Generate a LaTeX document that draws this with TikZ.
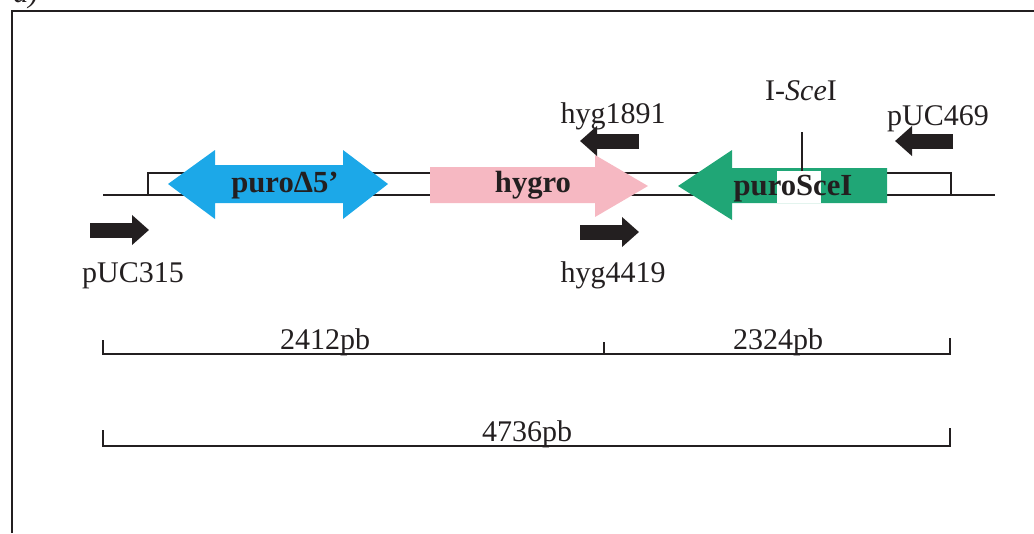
\documentclass[tikz,border=0pt]{standalone}
\usepackage{fontspec}
\setmainfont{Liberation Serif}
\usetikzlibrary{arrows.meta}
\definecolor{puroblue}{RGB}{28,168,232}
\definecolor{hygpink}{RGB}{246,184,194}
\definecolor{scegreen}{RGB}{32,166,118}
\definecolor{ink}{RGB}{35,31,32}
\begin{document}
\begin{tikzpicture}[x=0.75pt,y=-0.75pt,
  lbl/.style={font=\fontsize{22.5pt}{26pt}\selectfont, text=ink, inner sep=0pt, anchor=base},
  genelbl/.style={font=\fontsize{23pt}{26pt}\selectfont\bfseries, text=ink, inner sep=0pt, anchor=base},
  primer/.style={draw=ink, line width=11.25pt, -{Triangle[length=12.75pt,width=21.75pt]}},
  frameline/.style={draw=ink, line width=1.7pt},
  dnaline/.style={draw=ink, line width=1.1pt},
  scalebar/.style={draw=ink, line width=1.2pt},
  tick/.style={draw=ink, line width=0.9pt}]
\useasboundingbox (0,0) rectangle (1034,533);

% panel label, cut by the top of the page
\begin{scope}
  \clip (0,0) rectangle (1034,533);
  \node[lbl, anchor=base west] (panel) at (13,2) {\itshape a)};
\end{scope}

% frame
\draw[frameline] (12,533) -- (12,11) -- (1034,11);

% construct backbone
\draw[dnaline] (103,195) -- (995,195);
\draw[ink, line width=0.8pt] (148,195) -- (148,173) -- (951,173) -- (951,195);

% puro delta 5' (double arrow)
\fill[puroblue] (168,184) -- (215,150) -- (215,165) -- (343,165) -- (343,150)
  -- (388,184) -- (343,219) -- (343,203) -- (215,203) -- (215,219) -- cycle;
\node[genelbl] (puro) at (285,192) {puroΔ5’};

% hygro (right arrow)
\fill[hygpink] (430,167) -- (595,167) -- (595,155) -- (648,186) -- (595,217)
  -- (595,203) -- (430,203) -- cycle;
\node[genelbl] (hygro) at (533,192) {hygro};

% puroSceI (left arrow) with the I-SceI site
\fill[scegreen] (678,186) -- (732,150) -- (732,168) -- (887,168) -- (887,203)
  -- (732,203) -- (732,220) -- cycle;
\fill[white] (777,171) rectangle (821,203);
\node[genelbl] (purosce) at (793,195) {puroSceI};
\coordinate (site) at (802,171);
\coordinate (sitetop) at (802,132);
\draw[ink, line width=0.8pt] (site) -- (sitetop);
\node[lbl] (scelbl) at (801,100) {I-\textit{Sce}I};

% primers
\coordinate (p315a) at (90,230);   \coordinate (p315b) at (149,230);
\coordinate (h1891a) at (639,141); \coordinate (h1891b) at (580,141);
\coordinate (h4419a) at (580,232); \coordinate (h4419b) at (639,232);
\coordinate (p469a) at (953,141);  \coordinate (p469b) at (895,141);
\draw[primer] (p315a) -- (p315b);
\draw[primer] (h1891a) -- (h1891b);
\draw[primer] (h4419a) -- (h4419b);
\draw[primer] (p469a) -- (p469b);
\node[lbl] (l315) at (133,282) {pUC315};
\node[lbl] (l1891) at (613,123) {hyg1891};
\node[lbl] (l4419) at (613,282) {hyg4419};
\node[lbl] (l469) at (938,125) {pUC469};

% fragment sizes
\draw[scalebar] (103,340) -- (103,354) -- (950,354) -- (950,338);
\draw[tick] (604,342) -- (604,354);
\node[lbl] (s1) at (325,349) {2412pb};
\node[lbl] (s2) at (778,349) {2324pb};

\draw[scalebar] (103,430) -- (103,446) -- (950,446) -- (950,428);
\node[lbl] (s3) at (527,441) {4736pb};
\end{tikzpicture}
\end{document}
